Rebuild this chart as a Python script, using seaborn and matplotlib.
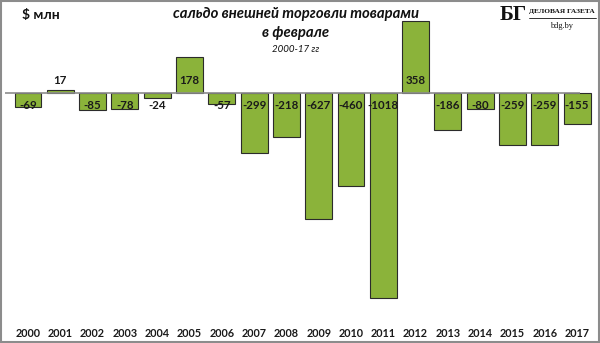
import matplotlib
matplotlib.use("Agg")
import matplotlib.pyplot as plt
import seaborn as sns
import pandas as pd
from matplotlib.patches import Rectangle
from matplotlib.lines import Line2D

years = ["2000", "2001", "2002", "2003", "2004", "2005", "2006", "2007", "2008",
         "2009", "2010", "2011", "2012", "2013", "2014", "2015", "2016", "2017"]
balance = [-69, 17, -85, -78, -24, 178, -57, -299, -218,
           -627, -460, -1018, 358, -186, -80, -259, -259, -155]

df = pd.DataFrame({"year": years, "balance": balance})

sns.set_theme(style="white")
plt.rcParams["font.family"] = ["Lato", "DejaVu Sans"]

fig = plt.figure(figsize=(6.0, 3.43), dpi=100)
H = 343.0
ax = fig.add_axes([0.0, 33 / H, 1.0, 310 / H])

bar_color = "#8bb33a"
sns.barplot(data=df, x="year", y="balance", color=bar_color, width=0.83,
            edgecolor="#2b2b2b", linewidth=0.8, saturation=1, ax=ax)

# layout in data units
px_per_unit = 0.2014
ax.set_ylim(-(310 - 93) / px_per_unit, 93 / px_per_unit)
ax.set_xlim(-28 / 32.3, (600 - 28) / 32.3)
ax.hlines(0, -0.71, 17.09, color="#8c8c8c", lw=1.2, zorder=3)

for i, v in enumerate(balance):
    off = 60 if v > 0 else -60
    ax.text(i, off, str(v), ha="center", va="center", fontsize=8.3,
            fontweight="bold", color="#1a1a1a", zorder=4)

ax.set_xlabel("")
ax.set_ylabel("")
ax.set_yticks([])
ax.tick_params(axis="x", length=0, pad=13)
for lab in ax.get_xticklabels():
    lab.set_fontsize(7.8)
    lab.set_fontweight("bold")
    lab.set_color("#1a1a1a")
for s in ax.spines.values():
    s.set_visible(False)
ax.patch.set_alpha(0)

# titles
fig.text(296 / 600, 1 - 14 / H, "сальдо внешней торговли товарами", ha="center",
         va="center", fontsize=10.7, fontweight="bold", style="italic", color="#111111")
fig.text(296 / 600, 1 - 33 / H, "в феврале", ha="center", va="center",
         fontsize=10.7, fontweight="bold", style="italic", color="#111111")
fig.text(296 / 600, 1 - 49 / H, "2000-17 гг", ha="center", va="center",
         fontsize=7, style="italic", color="#111111")
fig.text(22 / 600, 1 - 15 / H, "$ млн", ha="left", va="center",
         fontsize=10, fontweight="bold", color="#111111")

# masthead
fig.text(500 / 600, 1 - 15 / H, "БГ", ha="left", va="center", fontsize=15,
         fontweight="bold", family="Liberation Serif", color="#111111")
fig.text(562 / 600, 1 - 12 / H, "ДЕЛОВАЯ ГАЗЕТА", ha="center", va="center",
         fontsize=5.3, fontweight="bold", family="Liberation Serif", color="#111111")
fig.lines.append(Line2D([529 / 600, 596 / 600], [1 - 18 / H, 1 - 18 / H],
                        transform=fig.transFigure, color="#111111", lw=0.6))
fig.text(562 / 600, 1 - 26 / H, "bdg.by", ha="center", va="center", fontsize=6,
         family="Liberation Serif", color="#111111")

fig.patches.append(Rectangle((0.002, 0.003), 0.996, 0.994, transform=fig.transFigure,
                             fill=False, edgecolor="#8c8c8c", lw=1.5))

fig.savefig("out.png", dpi=100, facecolor="white")
